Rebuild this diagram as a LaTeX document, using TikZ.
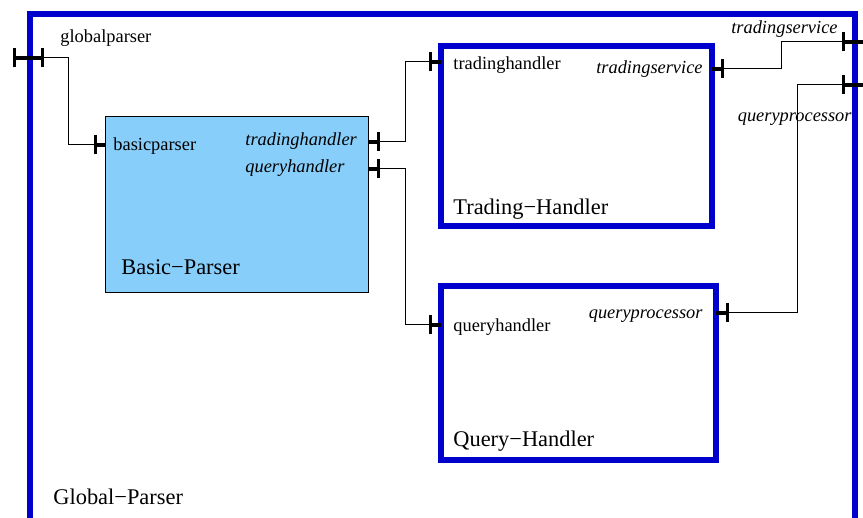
\documentclass[tikz,border=0pt]{standalone}
\usepackage{fontspec}
\setmainfont{Liberation Serif}
\usepackage{tikz}
\usetikzlibrary{arrows.meta, positioning}

\definecolor{frameblue}{RGB}{0,0,204}
\definecolor{parserfill}{RGB}{135,206,250}

\begin{document}
\begin{tikzpicture}
        [
        x=0.5pt, y=-0.5pt,
        handler/.style={draw=frameblue, line width=3pt, rectangle, inner sep=0pt, outer sep=0pt},
        parser/.style={draw, fill=parserfill, line width=0.5pt, rectangle, inner sep=0pt, outer sep=0pt,
                       minimum width=131.5pt, minimum height=88pt},
        portname/.style={inner sep=0pt, font=\fontsize{9.2}{11}\selectfont},
        provided/.style={inner sep=0pt, font=\fontsize{9.2}{11}\selectfont\itshape},
        title/.style={inner sep=0pt, font=\fontsize{11.2}{13}\selectfont},
        port/.style={-{Bar[width=9.5pt, line width=1.6pt]}, line width=1.6pt},
        relay/.style={{Bar[width=9.5pt, line width=1.6pt]}-{Bar[width=9.5pt, line width=1.6pt]}, line width=1.6pt},
        wire/.style={line width=0.5pt}
        ]

        \useasboundingbox (0,0) rectangle (863,518);
        \clip (0,0) rectangle (863,518);

        % components
        \node[handler, minimum width=412.75pt, minimum height=270pt, anchor=north west] (global) at (29.5,14) {};
        \node[parser] (basic) at (236.5,205) {};
        \node[handler, minimum width=135.5pt, minimum height=90pt] (trading) at (576.5,136) {};
        \node[handler, minimum width=137.5pt, minimum height=87pt] (query) at (578.5,373) {};

        % labels
        \node[portname, anchor=base west] (globalparser) at (60,43) {globalparser};
        \node[title, anchor=base west] (globalname) at (53,504) {Global−Parser};
        \node[portname, anchor=base west] (basicparser) at (113,151) {basicparser};
        \node[provided, anchor=base west] (basictrading) at (245,146) {tradinghandler};
        \node[provided, anchor=base west] (basicquery) at (245,173) {queryhandler};
        \node[title, anchor=base west] (basicname) at (121,275) {Basic−Parser};
        \node[portname, anchor=base west] (tradinghandler) at (453,70) {tradinghandler};
        \node[provided, anchor=base east] (tradingservice) at (703,74) {tradingservice};
        \node[title, anchor=base west] (tradingname) at (453,215) {Trading−Handler};
        \node[portname, anchor=base west] (queryhandler) at (453,332) {queryhandler};
        \node[provided, anchor=base east] (queryprocessor) at (703,319) {queryprocessor};
        \node[title, anchor=base west] (queryname) at (453,447) {Query−Handler};
        \node[provided, anchor=base east] (globaltrading) at (838,34) {tradingservice};
        \node[provided, anchor=base east] (globalquery) at (852,122) {queryprocessor};

        % ports
        \coordinate (gpin) at (13,58);
        \coordinate (gpout) at (44,58);
        \coordinate (bpin) at (94,145);
        \coordinate (bptrade) at (380,142);
        \coordinate (bpquery) at (380,169);
        \coordinate (thin) at (429,62);
        \coordinate (thout) at (724,69);
        \coordinate (qhin) at (429,325);
        \coordinate (qhout) at (729,313);
        \coordinate (gtin) at (842,42);
        \coordinate (gtout) at (872,42);
        \coordinate (gqin) at (842,85);
        \coordinate (gqout) at (872,85);

        \draw[relay] (gpin) -- (gpout);
        \draw[port] (basic.west |- bpin) -- (bpin);
        \draw[port] (basic.east |- bptrade) -- (bptrade);
        \draw[port] (basic.east |- bpquery) -- (bpquery);
        \draw[port] (trading.west |- thin) -- (thin);
        \draw[port] (trading.east |- thout) -- (thout);
        \draw[port] (query.west |- qhin) -- (qhin);
        \draw[port] (query.east |- qhout) -- (qhout);
        \draw[relay] (gtin) -- (gtout);
        \draw[relay] (gqin) -- (gqout);

        % connections
        \draw[wire] (gpout) -- ++(24,0) |- (bpin);
        \draw[wire] (bptrade) -- ++(25,0) |- (thin);
        \draw[wire] (bpquery) -- ++(25,0) |- (qhin);
        \draw[wire] (thout) -- ++(57,0) |- (gtin);
        \draw[wire] (qhout) -- ++(68,0) |- (gqin);

    \end{tikzpicture}
\end{document}
